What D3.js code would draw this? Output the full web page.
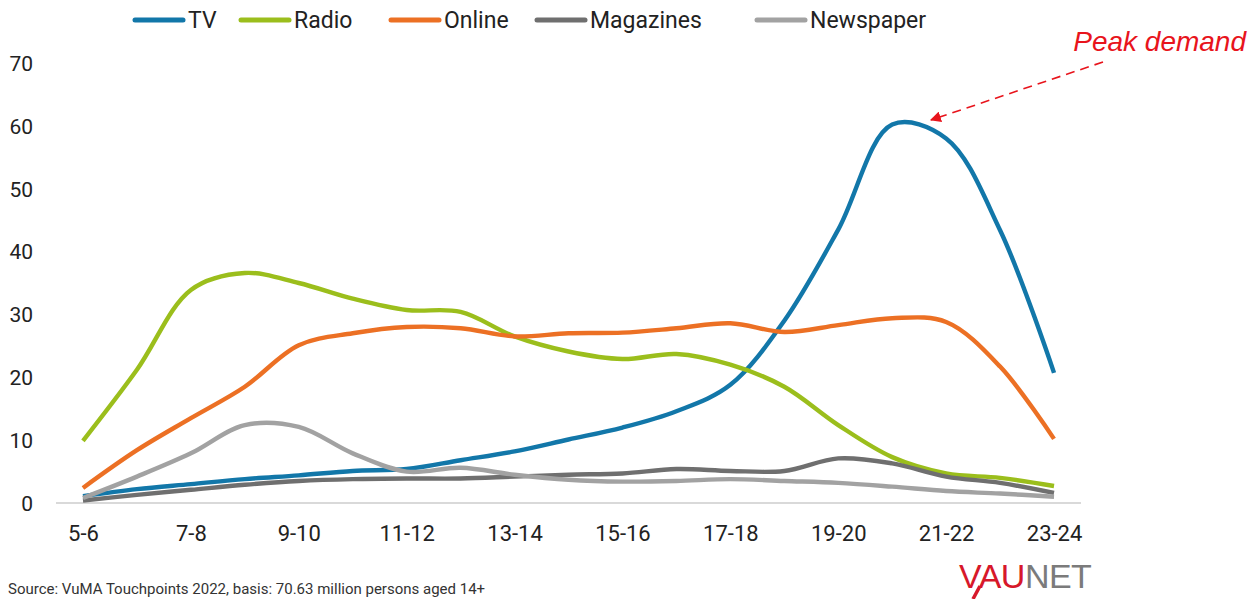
<!DOCTYPE html>
<html>
<head>
<meta charset="utf-8">
<script src="https://cdn.jsdelivr.net/npm/d3@7"></script>
<style>
  html, body { margin: 0; padding: 0; background: #fff; }
  svg { display: block; }
</style>
</head>
<body>
<svg id="chart" width="1260" height="599"></svg>
<script>
// ---- data ----
const hours = ["5-6","6-7","7-8","8-9","9-10","10-11","11-12","12-13","13-14","14-15",
               "15-16","16-17","17-18","18-19","19-20","20-21","21-22","22-23","23-24"];
const tickLabels = ["5-6","7-8","9-10","11-12","13-14","15-16","17-18","19-20","21-22","23-24"];
const yTicks = [0, 10, 20, 30, 40, 50, 60, 70];
const seriesNames = ["TV", "Radio", "Online", "Magazines", "Newspaper"];
const tv        = [1.1, 2.2, 3.0, 3.8, 4.4, 5.1, 5.4, 6.8, 8.2, 10.1, 12.0, 14.6, 18.8, 29.0, 43.5, 60.2, 58.0, 43.4, 20.7];
const radio     = [9.9, 21.2, 33.9, 36.6, 35.0, 32.5, 30.7, 30.4, 26.5, 24.1, 22.9, 23.7, 22.0, 18.5, 12.4, 7.3, 4.7, 4.0, 2.7];
const online    = [2.4, 8.4, 13.5, 18.5, 25.1, 27.0, 28.0, 27.8, 26.5, 27.0, 27.1, 27.8, 28.6, 27.2, 28.3, 29.4, 28.8, 21.7, 10.2];
const magazines = [0.4, 1.3, 2.1, 2.9, 3.5, 3.8, 3.9, 3.9, 4.2, 4.5, 4.7, 5.4, 5.1, 5.1, 7.1, 6.3, 4.2, 3.2, 1.6];
const newspaper = [0.8, 4.2, 7.9, 12.4, 12.1, 7.9, 5.0, 5.6, 4.5, 3.7, 3.4, 3.5, 3.8, 3.5, 3.2, 2.6, 1.9, 1.5, 1.0];
const colors = ["#1277a9", "#9bbe1c", "#ec7024", "#6f6f6f", "#a2a2a2"];
const annotation = "Peak demand";
const sourceText = "Source: VuMA Touchpoints 2022, basis: 70.63 million persons aged 14+";

const seriesValues = [tv, radio, online, magazines, newspaper];

// ---- layout ----
const svg = d3.select("#chart");
const plotLeft = 56, plotRight = 1081, plotTop = 63, plotBottom = 503;
const textColor = "#222";
const font = "Roboto, 'Noto Sans', sans-serif";

const x = d3.scalePoint().domain(hours).range([plotLeft, plotRight]).padding(0.5);
const y = d3.scaleLinear().domain([0, 70]).range([plotBottom, plotTop]);

// baseline
svg.append("line")
  .attr("x1", plotLeft).attr("x2", plotRight)
  .attr("y1", y(0)).attr("y2", y(0))
  .attr("stroke", "#d9d9d9").attr("stroke-width", 2);

// y axis
const yAxis = d3.axisLeft(y).tickValues(yTicks).tickSize(0).tickPadding(0);
const gy = svg.append("g").attr("transform", "translate(33,0)").call(yAxis);
gy.select(".domain").remove();
gy.selectAll("text").attr("font-family", font).attr("font-size", 21).attr("fill", textColor)
  .attr("dy", "0.35em");

// x axis
const xAxis = d3.axisBottom(x).tickValues(tickLabels).tickSize(0).tickPadding(0);
const gx = svg.append("g").attr("transform", "translate(0,533)").call(xAxis);
gx.select(".domain").remove();
gx.selectAll("text").attr("font-family", font).attr("font-size", 22).attr("fill", textColor)
  .attr("dy", "0.35em");

// lines
const line = d3.line()
  .x((d, i) => x(hours[i]))
  .y(d => y(d))
  .curve(d3.curveCatmullRom.alpha(0.5));

seriesValues.forEach((vals, k) => {
  svg.append("path")
    .datum(vals)
    .attr("d", line)
    .attr("fill", "none")
    .attr("stroke", colors[k])
    .attr("stroke-width", 4.4)
    .attr("stroke-linejoin", "round");
});

// legend
const legendX = [135, 241, 391, 537, 757];
seriesNames.forEach((name, k) => {
  const g = svg.append("g").attr("transform", `translate(${legendX[k]},20)`);
  g.append("line").attr("x1", 0).attr("x2", 48).attr("y1", 0).attr("y2", 0)
    .attr("stroke", colors[k]).attr("stroke-width", 5).attr("stroke-linecap", "round");
  g.append("text").attr("x", 53).attr("y", 0).attr("dy", "0.35em")
    .attr("font-family", font).attr("font-size", 23).attr("fill", textColor)
    .text(name);
});

// annotation
const defs = svg.append("defs");
defs.append("marker").attr("id", "arrow").attr("viewBox", "0 0 10 10")
  .attr("refX", 9).attr("refY", 5).attr("markerWidth", 11).attr("markerHeight", 11)
  .attr("markerUnits", "userSpaceOnUse").attr("orient", "auto")
  .append("path").attr("d", "M0,0 L10,5 L0,10 Z").attr("fill", "#e8141c");

svg.append("line")
  .attr("x1", 1103).attr("y1", 62).attr("x2", 931).attr("y2", 120)
  .attr("stroke", "#e8141c").attr("stroke-width", 1.6)
  .attr("stroke-dasharray", "9,6")
  .attr("marker-end", "url(#arrow)");

svg.append("text")
  .attr("x", 1246).attr("y", 51).attr("text-anchor", "end")
  .attr("font-family", "'Liberation Sans', Arial, sans-serif")
  .attr("font-style", "italic").attr("font-size", 28).attr("fill", "#e8141c")
  .text(annotation);

// source
svg.append("text")
  .attr("x", 8).attr("y", 594)
  .attr("font-family", font).attr("font-size", 15).attr("fill", "#333")
  .text(sourceText);

// logo
const logo = svg.append("text")
  .attr("x", 959).attr("y", 588)
  .attr("font-family", "'Liberation Sans', Arial, sans-serif")
  .attr("font-size", 34).attr("letter-spacing", "-0.5");
logo.append("tspan").attr("fill", "#d7182a").text("VAU");
logo.append("tspan").attr("fill", "#7b7b7b").text("NET");
svg.append("line")
  .attr("x1", 980).attr("y1", 586).attr("x2", 973).attr("y2", 599)
  .attr("stroke", "#d7182a").attr("stroke-width", 3.5);
</script>
</body>
</html>
